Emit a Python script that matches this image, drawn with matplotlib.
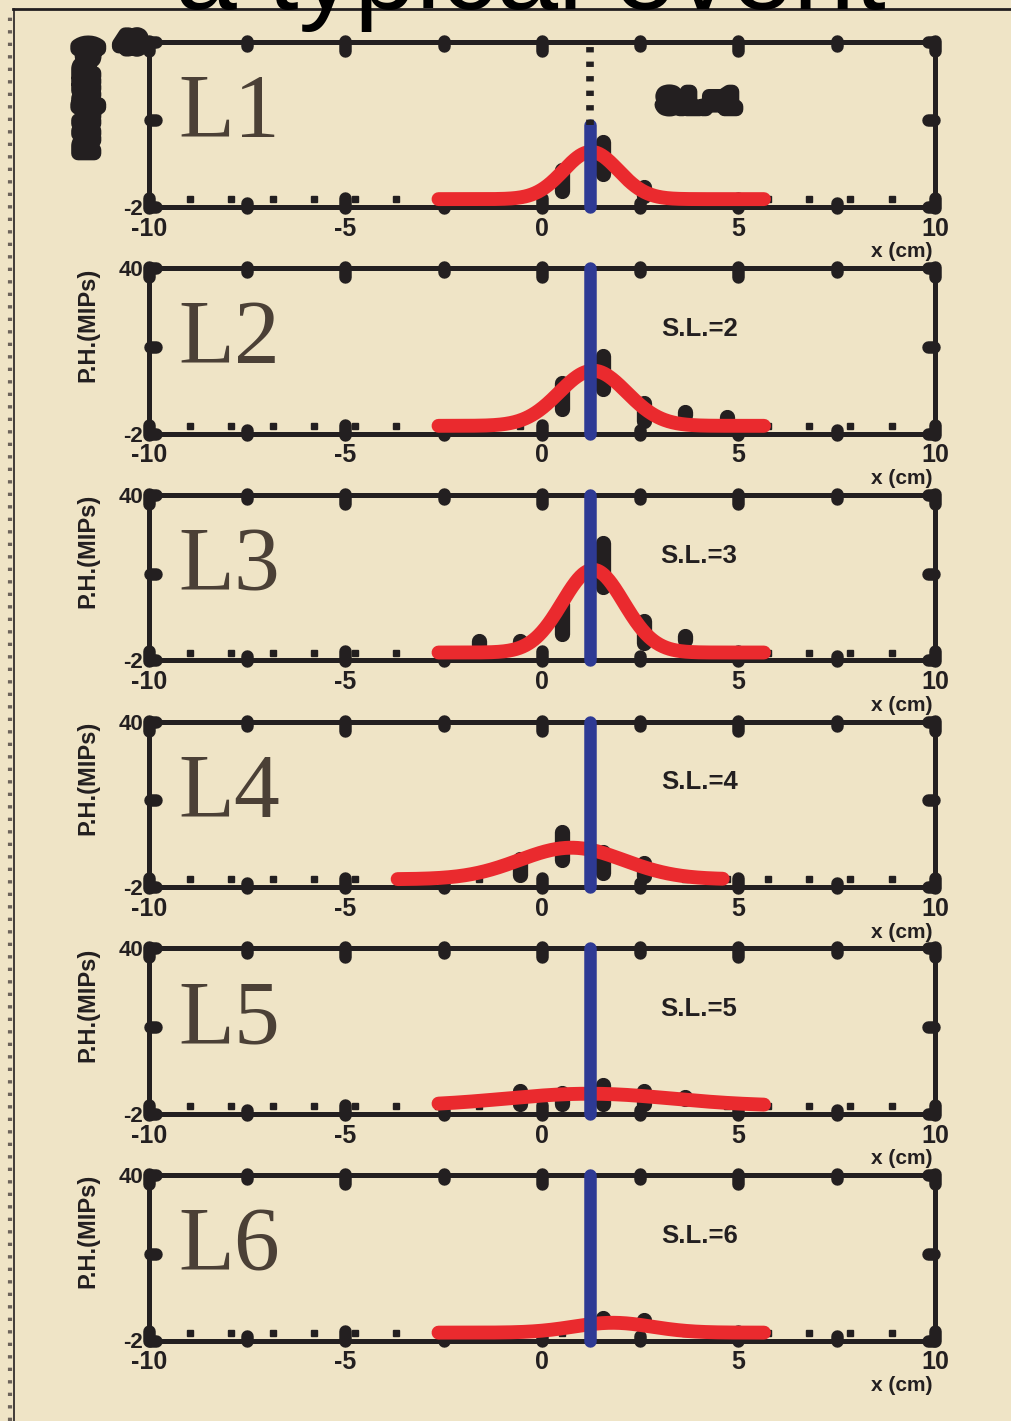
import numpy as np
import matplotlib
matplotlib.use('Agg')
import matplotlib.pyplot as plt
import matplotlib.patheffects as pe
from matplotlib.lines import Line2D

# strip centres (cm)
strip_x = [-8.95, -7.9, -6.85, -5.8, -4.75, -3.7, -2.65, -1.6, -0.55,
           0.5, 1.55, 2.6, 3.65, 4.7, 5.75, 6.8, 7.85, 8.9]

# pulse heights (MIPs) and errors per layer
ph_L1 = [0, 0, 0, 0, 0, 0, 0, 0, 0, 4.7, 10.5, 2.0, 0, 0, 0, 0, 0, 0]
err_L1 = [0, 0, 0, 0, 0, 0, 0, 0, 0, 2.7, 4.0, 1.2, 0, 0, 0, 0, 0, 0]
ph_L2 = [0, 0, 0, 0, 0, 0, 0, 0, 0, 7.6, 13.5, 3.5, 3.1, 2.0, 0, 0, 0, 0]
err_L2 = [0, 0, 0, 0, 0, 0, 0, 0, 0, 3.3, 4.2, 2.2, 0.3, 0.3, 0, 0, 0, 0]
ph_L3 = [0, 0, 0, 0, 0, 0, 0, 2.3, 2.6, 8.5, 22.3, 5.2, 3.7, 0, 0, 0, 0, 0]
err_L3 = [0, 0, 0, 0, 0, 0, 0, 0.5, 0.4, 3.7, 5.6, 2.9, 0.5, 0, 0, 0, 0, 0]
ph_L4 = [0, 0, 0, 0, 0, 0, 0, 0, 3.1, 8.4, 4.2, 2.5, 0, 0, 0, 0, 0, 0]
err_L4 = [0, 0, 0, 0, 0, 0, 0, 0, 2.0, 3.5, 2.7, 1.6, 0, 0, 0, 0, 0, 0]
ph_L5 = [0, 0, 0, 0, 0, 0, 0, 0, 2.2, 2.0, 2.9, 2.2, 2.0, 0, 0, 0, 0, 0]
err_L5 = [0, 0, 0, 0, 0, 0, 0, 0, 1.6, 1.4, 2.4, 1.6, 0.3, 0, 0, 0, 0, 0]
ph_L6 = [0, 0, 0, 0, 0, 0, 0, 0, 0, 0, 3.3, 3.0, 0, 0, 0, 0, 0, 0]
err_L6 = [0, 0, 0, 0, 0, 0, 0, 0, 0, 0, 0.3, 0.3, 0, 0, 0, 0, 0, 0]

ph_all = [ph_L1, ph_L2, ph_L3, ph_L4, ph_L5, ph_L6]
err_all = [err_L1, err_L2, err_L3, err_L4, err_L5, err_L6]
layer_names = ['L1', 'L2', 'L3', 'L4', 'L5', 'L6']
sl_labels = ['S.L.=1', 'S.L.=2', 'S.L.=3', 'S.L.=4', 'S.L.=5', 'S.L.=6']

# gaussian fit parameters
fit_amp = [12, 14, 21, 8, 3.1, 2.5]
fit_mean = [1.25, 1.3, 1.3, 0.75, 1.2, 1.8]
fit_sigma = [0.7, 0.86, 0.78, 1.33, 2.1, 1.0]
fit_lo = [-2.63, -2.63, -2.63, -3.67, -2.63, -2.63]
fit_hi = [5.65, 5.65, 5.65, 4.6, 5.65, 5.65]

track_x = 1.23
track_top_L1 = 18.8

major_x = [-10, -5, 0, 5, 10]
minor_x = [-7.5, -2.5, 2.5, 7.5]
y_ticks = [-2, 20, 40]

ink = '#231f20'
red = '#ea2a2e'
blue = '#2e3a94'
bg = '#efe4c6'

W, H = 1012, 1421
fig = plt.figure(figsize=(W / 100, H / 100), dpi=100, facecolor=bg)

# slide decorations
fig.add_artist(Line2D([13 / W, 1], [1 - 9 / H, 1 - 9 / H], color=ink, lw=2))
fig.add_artist(Line2D([14 / W, 14 / W], [0, 1 - 9 / H], color=ink, lw=1.2))
fig.add_artist(Line2D([10 / W, 10 / W], [0, 1 - 12 / H], color='#6b625a', lw=3,
                      linestyle=(0, (0.8, 2.2))))
fig.text(530 / W, 1 - 9 / H, 'a typical event', fontsize=80, ha='center', va='baseline',
         family='Liberation Sans', color='black')

blob = [pe.withStroke(linewidth=10, foreground=ink)]

for i in range(6):
    bottom_px = 207 + 226.7 * i
    ax = fig.add_axes([148.8 / W, 1 - bottom_px / H, 786.2 / W, 165.4 / H])
    ax.set_facecolor('none')
    ax.set_xlim(-10, 10)
    ax.set_ylim(-2, 40)
    for s in ax.spines.values():
        s.set_linewidth(3.6)
        s.set_color(ink)

    ax.set_xticks(major_x)
    ax.set_xticklabels([str(v) for v in major_x], fontsize=18, fontweight='bold',
                       family='Liberation Sans', color=ink)
    ax.set_yticks([-2, 40])
    ax.set_yticklabels(['-2', '40'], fontsize=16, fontweight='bold',
                       family='Liberation Sans', color=ink)
    ax.tick_params(axis='x', length=0, pad=7)
    ax.tick_params(axis='y', length=0, pad=4)
    if i == 0:
        for lab in ax.get_yticklabels()[1:]:
            lab.set_path_effects(blob)

    # rounded tick blobs
    xt = ax.get_xaxis_transform()
    yt = ax.get_yaxis_transform()
    kw = dict(color=ink, lw=9, solid_capstyle='round', clip_on=False, zorder=3)
    for x in major_x:
        ax.plot([x, x], [-0.006, 0.055], transform=xt, **kw)
        ax.plot([x, x], [0.945, 1.006], transform=xt, **kw)
    for x in minor_x:
        ax.plot([x, x], [-0.006, 0.025], transform=xt, **kw)
        ax.plot([x, x], [0.975, 1.006], transform=xt, **kw)
    for y in y_ticks:
        ax.plot([0.001, 0.009], [y, y], transform=yt, **kw)
        ax.plot([0.991, 0.999], [y, y], transform=yt, **kw)

    # strip pulse heights
    for x, v, e in zip(strip_x, ph_all[i], err_all[i]):
        if v == 0:
            ax.plot(x, v, 's', ms=5, color=ink, zorder=2)
        else:
            ax.plot([x, x], [v - e, v + e], color=ink, lw=11,
                    solid_capstyle='round', zorder=2)

    # gaussian fit
    xs = np.linspace(fit_lo[i], fit_hi[i], 400)
    ys = fit_amp[i] * np.exp(-(xs - fit_mean[i]) ** 2 / (2 * fit_sigma[i] ** 2))
    ax.plot(xs, ys, color=red, lw=10, solid_capstyle='round', zorder=4)

    # track position
    if i == 0:
        ax.plot([track_x, track_x], [-2, track_top_L1], color=blue, lw=9,
                solid_capstyle='round', clip_on=False, zorder=5)
        ax.plot([track_x, track_x], [track_top_L1, 40], color=ink, lw=5.5,
                linestyle=(0, (0.7, 1.2)), zorder=5)
    else:
        ax.plot([track_x, track_x], [-2, 40], color=blue, lw=9,
                solid_capstyle='round', clip_on=False, zorder=5)

    ax.text(0.038, 0.425, layer_names[i], transform=ax.transAxes, fontsize=66,
            family='Liberation Serif', color='#4b4036', ha='left', va='baseline')
    t = ax.text(0.70, 0.633, sl_labels[i], transform=ax.transAxes, fontsize=18.5,
                fontweight='bold', family='Liberation Sans', color=ink,
                ha='center', va='center')
    yl = ax.text(-0.0775, 0.66, 'P.H.(MIPs)', transform=ax.transAxes, rotation=90,
                 fontsize=17, fontweight='bold', family='Liberation Sans', color=ink,
                 ha='center', va='center')
    if i == 0:
        t.set_path_effects(blob)
        yl.set_path_effects(blob)
    ax.text(0.958, -0.272, 'x (cm)', transform=ax.transAxes, fontsize=15,
            fontweight='bold', family='Liberation Sans', color=ink,
            ha='center', va='center')

fig.savefig('out.png', dpi=100, facecolor=bg)
